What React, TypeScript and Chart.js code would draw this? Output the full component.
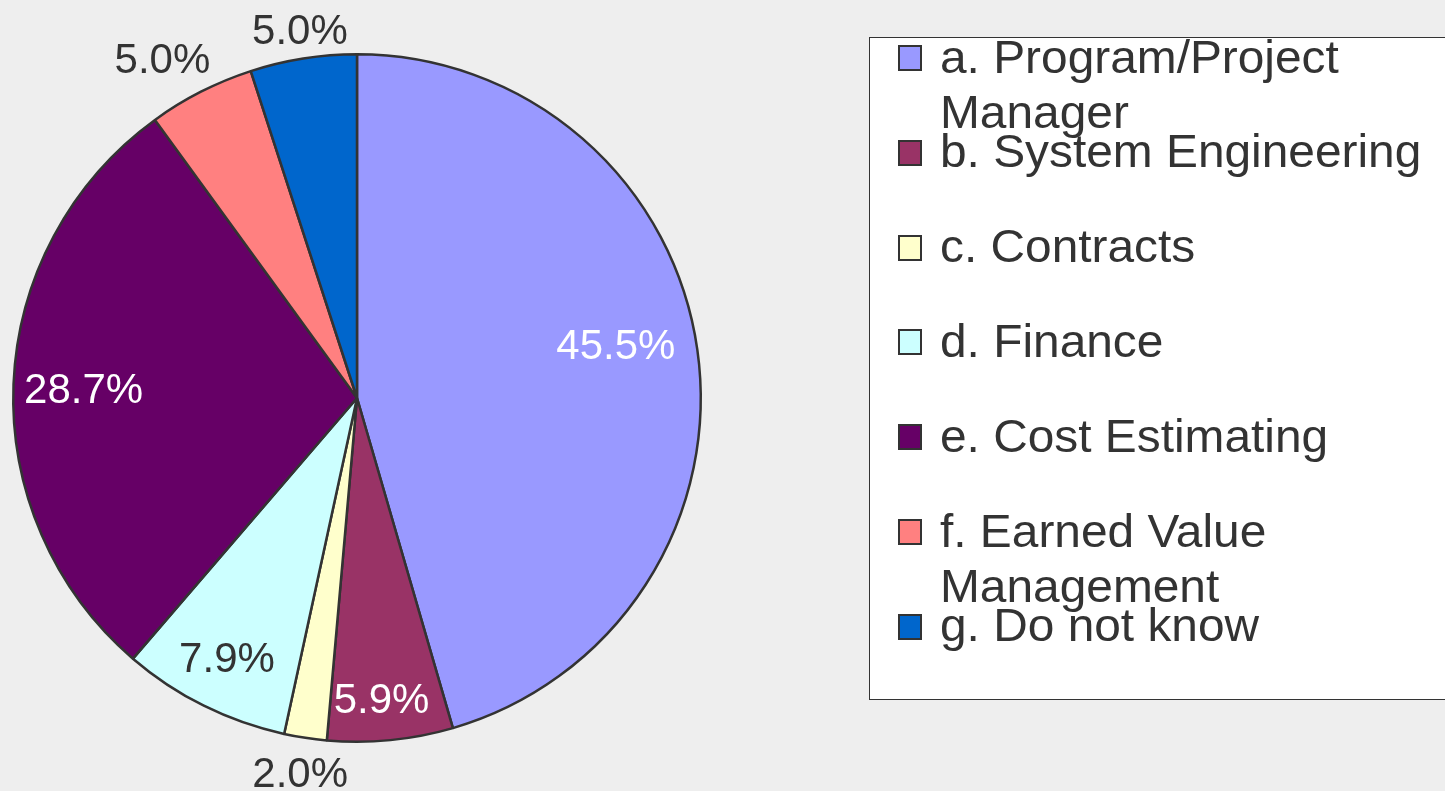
import React, { useEffect, useRef } from "react";
import { Chart, registerables } from "chart.js";

Chart.register(...registerables);

const categories = [
  "a. Program/Project Manager",
  "b. System Engineering",
  "c. Contracts",
  "d. Finance",
  "e. Cost Estimating",
  "f. Earned Value Management",
  "g. Do not know",
];
const legendLines = [
  ["a. Program/Project", "Manager"],
  ["b. System Engineering"],
  ["c. Contracts"],
  ["d. Finance"],
  ["e. Cost Estimating"],
  ["f. Earned Value", "Management"],
  ["g. Do not know"],
];
const values = [45.5, 5.9, 2.0, 7.9, 28.7, 5.0, 5.0];
const valueLabels = ["45.5%", "5.9%", "2.0%", "7.9%", "28.7%", "5.0%", "5.0%"];
const colors = ["#9999ff", "#993366", "#ffffcc", "#ccffff", "#660066", "#ff8080", "#0066cc"];
const labelColors = ["#ffffff", "#ffffff", "#333333", "#333333", "#ffffff", "#333333", "#333333"];
// radial distance factor and angular tweak (deg) for each label
const labelRadius = [0.769, 0.875, 1.101, 0.843, 0.796, 1.139, 1.085];
const labelAngleTweak = [-3.6, 0.9, 0, 0.2, -0.2, -2.8, 0.2];

const FONT = '"Liberation Sans", Arial, sans-serif';

const labelPlugin = {
  id: "pieLabels",
  afterDatasetsDraw(chart: any) {
    const ctx = chart.ctx;
    const meta = chart.getDatasetMeta(0);
    ctx.save();
    ctx.font = `42px ${FONT}`;
    ctx.textAlign = "center";
    ctx.textBaseline = "alphabetic";
    meta.data.forEach((arc: any, i: number) => {
      const { x, y, startAngle, endAngle, outerRadius } = arc.getProps(
        ["x", "y", "startAngle", "endAngle", "outerRadius"],
        true
      );
      const mid = (startAngle + endAngle) / 2 + (labelAngleTweak[i] * Math.PI) / 180;
      const r = outerRadius * labelRadius[i];
      const cx = x + Math.cos(mid) * r;
      const cy = y + Math.sin(mid) * r;
      ctx.fillStyle = labelColors[i];
      ctx.fillText(valueLabels[i], cx, cy + 15);
    });
    ctx.restore();
  },
};

export default function App() {
  const ref = useRef<HTMLCanvasElement>(null);
  useEffect(() => {
    if (!ref.current) return;
    const chart = new Chart(ref.current, {
      type: "pie",
      data: {
        labels: categories,
        datasets: [
          {
            data: values,
            backgroundColor: colors,
            borderColor: "#333333",
            borderWidth: 2.5,
          },
        ],
      },
      options: {
        responsive: false,
        animation: false,
        layout: { padding: { top: 53, bottom: 48, left: 12, right: 743 } },
        plugins: {
          legend: { display: false },
          tooltip: { enabled: false },
        },
      },
      plugins: [labelPlugin],
    });
    return () => chart.destroy();
  }, []);

  return (
    <div
      style={{
        position: "fixed",
        left: 0,
        top: 0,
        width: 1445,
        height: 791,
        overflow: "hidden",
        background: "#eeeeee",
      }}
    >
      <canvas
        ref={ref}
        width={1445}
        height={791}
        style={{ position: "absolute", left: 0, top: 0, width: 1445, height: 791 }}
      />
      <div
        style={{
          position: "absolute",
          left: 869,
          top: 37,
          width: 600,
          height: 663,
          background: "#ffffff",
          border: "1px solid #333333",
          boxSizing: "border-box",
        }}
      />
      {legendLines.map((lines, i) => {
        const baseline = 73 + 94.8 * i;
        return (
          <React.Fragment key={i}>
            <div
              style={{
                position: "absolute",
                left: 898,
                top: baseline - 28,
                width: 24,
                height: 26,
                background: colors[i],
                border: "2.5px solid #333333",
                boxSizing: "border-box",
              }}
            />
            <div
              style={{
                position: "absolute",
                left: 940,
                top: baseline - 43.4,
                fontFamily: FONT,
                fontSize: 46,
                lineHeight: "55px",
                color: "#333333",
                whiteSpace: "nowrap",
                transform: "scaleX(1.04)",
                transformOrigin: "0 0",
              }}
            >
              {lines.map((l, j) => (
                <div key={j}>{l}</div>
              ))}
            </div>
          </React.Fragment>
        );
      })}
    </div>
  );
}
